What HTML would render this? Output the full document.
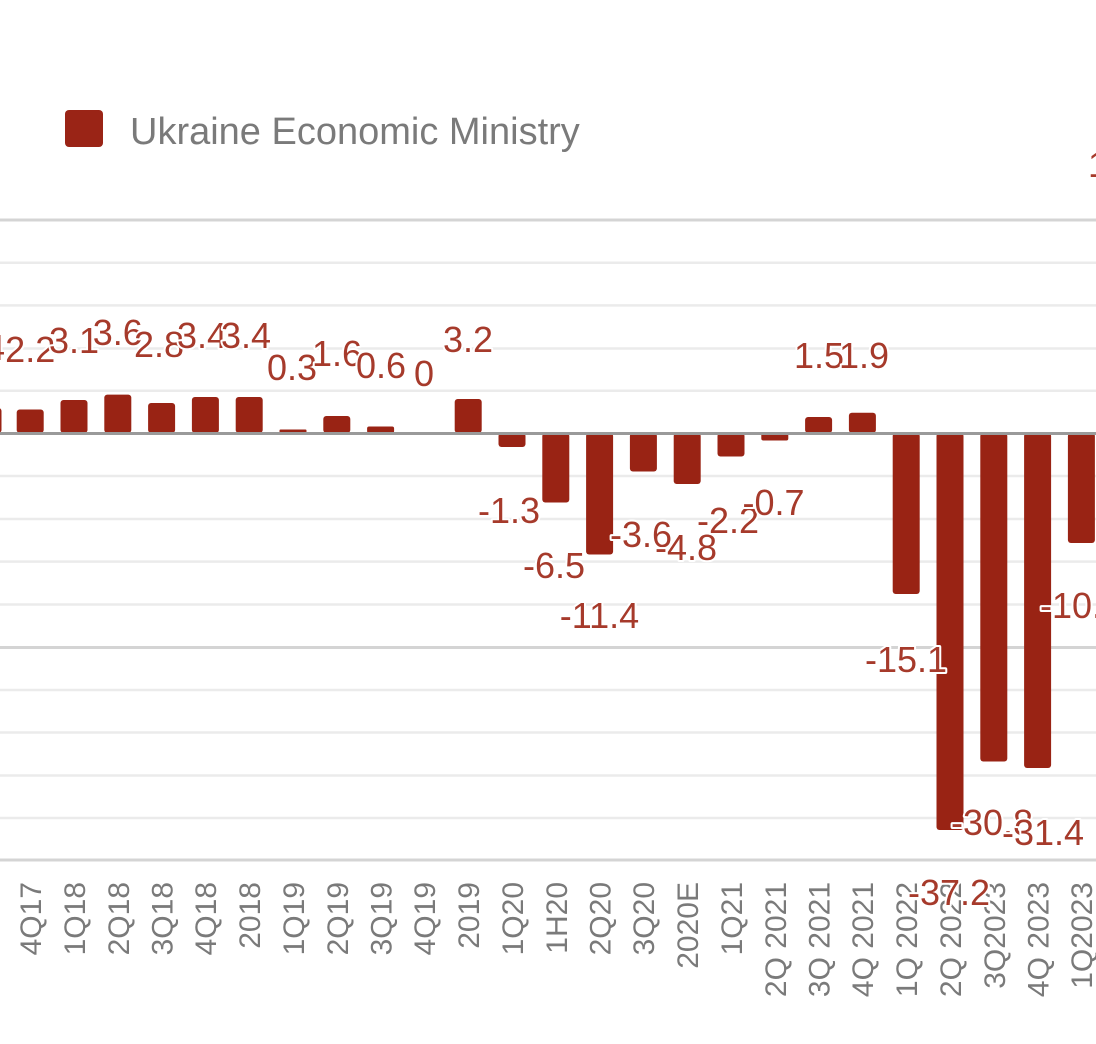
<!DOCTYPE html>
<html>
<head>
<meta charset="utf-8">
<style>
  html, body { margin: 0; padding: 0; background: #ffffff; }
  svg { display: block; }
  .val { font-family: "Liberation Sans", Arial, sans-serif; font-size: 36px; fill: #a63a2b; stroke: #ffffff; stroke-width: 4px; paint-order: stroke; stroke-linejoin: round; text-anchor: middle; }
  .ax { font-family: "Liberation Sans", Arial, sans-serif; font-size: 30px; fill: #7a7a7a; text-anchor: end; }
</style>
</head>
<body>
<svg width="1096" height="1044" viewBox="0 0 1096 1044" xmlns="http://www.w3.org/2000/svg">
  <rect x="0" y="0" width="1096" height="1044" fill="#ffffff"/>

  <!-- Legend -->
  <rect x="65" y="110" width="38" height="37" rx="4" fill="#9a2416"/>
  <text x="130" y="144" font-family="Liberation Sans, Arial, sans-serif" font-size="38" fill="#7a7a7a">Ukraine Economic Ministry</text>

  <!-- Gridlines -->
  <g stroke="#ebebeb" stroke-width="2.5">
    <line x1="0" y1="262.7" x2="1096" y2="262.7"/>
    <line x1="0" y1="305.4" x2="1096" y2="305.4"/>
    <line x1="0" y1="348.5" x2="1096" y2="348.5"/>
    <line x1="0" y1="390.8" x2="1096" y2="390.8"/>
    <line x1="0" y1="476" x2="1096" y2="476"/>
    <line x1="0" y1="519" x2="1096" y2="519"/>
    <line x1="0" y1="561.6" x2="1096" y2="561.6"/>
    <line x1="0" y1="604.5" x2="1096" y2="604.5"/>
    <line x1="0" y1="690" x2="1096" y2="690"/>
    <line x1="0" y1="732.5" x2="1096" y2="732.5"/>
    <line x1="0" y1="775.5" x2="1096" y2="775.5"/>
    <line x1="0" y1="818" x2="1096" y2="818"/>
  </g>
  <g stroke="#d4d4d4" stroke-width="3">
    <line x1="0" y1="220" x2="1096" y2="220"/>
    <line x1="0" y1="647.5" x2="1096" y2="647.5"/>
    <line x1="0" y1="860" x2="1096" y2="860"/>
  </g>

  <!-- Bars -->
  <g fill="#992314">
    <rect x="-26" y="408" width="27.5" height="25" rx="3"/>
    <rect x="16.7" y="409.5" width="27" height="23.5" rx="3"/>
    <rect x="60.5" y="400" width="27" height="33" rx="3"/>
    <rect x="104.3" y="394.6" width="27" height="38.4" rx="3"/>
    <rect x="148.1" y="403" width="27" height="30" rx="3"/>
    <rect x="191.9" y="397" width="27" height="36" rx="3"/>
    <rect x="235.7" y="397" width="27" height="36" rx="3"/>
    <rect x="279.5" y="429.5" width="27" height="3.5" rx="1"/>
    <rect x="323.3" y="416" width="27" height="17" rx="3"/>
    <rect x="367.1" y="426.5" width="27" height="6.5" rx="2"/>
    <rect x="454.7" y="399" width="27" height="34" rx="3"/>
    <rect x="498.5" y="433" width="27" height="14" rx="3"/>
    <rect x="542.3" y="433" width="27" height="69.5" rx="3"/>
    <rect x="586.1" y="433" width="27" height="121.5" rx="3"/>
    <rect x="629.9" y="433" width="27" height="38.5" rx="3"/>
    <rect x="673.7" y="433" width="27" height="51" rx="3"/>
    <rect x="717.5" y="433" width="27" height="23.5" rx="3"/>
    <rect x="761.3" y="433" width="27" height="7.5" rx="2"/>
    <rect x="805.1" y="417" width="27" height="16" rx="3"/>
    <rect x="848.9" y="412.7" width="27" height="20.3" rx="3"/>
    <rect x="892.7" y="433" width="27" height="161" rx="3"/>
    <rect x="936.5" y="433" width="27" height="397" rx="3"/>
    <rect x="980.3" y="433" width="27" height="328.5" rx="3"/>
    <rect x="1024.1" y="433" width="27" height="335" rx="3"/>
    <rect x="1067.9" y="433" width="27" height="110" rx="3"/>
  </g>

  <!-- Zero line -->
  <line x1="0" y1="433.5" x2="1096" y2="433.5" stroke="#9a9a9a" stroke-width="3"/>

  <!-- Category labels (rotated) -->
  <g class="ax">
    <text transform="translate(41,882) rotate(-90)">4Q17</text>
    <text transform="translate(85,882) rotate(-90)">1Q18</text>
    <text transform="translate(129,882) rotate(-90)">2Q18</text>
    <text transform="translate(172.5,882) rotate(-90)">3Q18</text>
    <text transform="translate(216,882) rotate(-90)">4Q18</text>
    <text transform="translate(260,882) rotate(-90)">2018</text>
    <text transform="translate(304,882) rotate(-90)">1Q19</text>
    <text transform="translate(348,882) rotate(-90)">2Q19</text>
    <text transform="translate(391.5,882) rotate(-90)">3Q19</text>
    <text transform="translate(435,882) rotate(-90)">4Q19</text>
    <text transform="translate(479,882) rotate(-90)">2019</text>
    <text transform="translate(523,882) rotate(-90)">1Q20</text>
    <text transform="translate(567,882) rotate(-90)">1H20</text>
    <text transform="translate(610.5,882) rotate(-90)">2Q20</text>
    <text transform="translate(654,882) rotate(-90)">3Q20</text>
    <text transform="translate(698,882) rotate(-90)">2020E</text>
    <text transform="translate(742,882) rotate(-90)">1Q21</text>
    <text transform="translate(786,882) rotate(-90)">2Q 2021</text>
    <text transform="translate(829.5,882) rotate(-90)">3Q 2021</text>
    <text transform="translate(873,882) rotate(-90)">4Q 2021</text>
    <text transform="translate(917,882) rotate(-90)">1Q 2022</text>
    <text transform="translate(961,882) rotate(-90)">2Q 2022</text>
    <text transform="translate(1005,882) rotate(-90)">3Q2023</text>
    <text transform="translate(1048.5,882) rotate(-90)">4Q 2023</text>
    <text transform="translate(1092,882) rotate(-90)">1Q2023</text>
  </g>

  <!-- Value annotations -->
  <g class="val">
    <text x="5" y="360" text-anchor="end" style="text-anchor:end">2.4</text>
    <text x="30.2" y="362">2.2</text>
    <text x="74" y="353">3.1</text>
    <text x="117.8" y="345">3.6</text>
    <text x="159" y="357">2.8</text>
    <text x="202" y="348">3.4</text>
    <text x="246" y="348">3.4</text>
    <text x="292" y="380">0.3</text>
    <text x="337" y="366">1.6</text>
    <text x="381" y="378">0.6</text>
    <text x="424" y="386">0</text>
    <text x="468" y="352">3.2</text>
    <text x="509" y="523">-1.3</text>
    <text x="554" y="578">-6.5</text>
    <text x="599.5" y="628">-11.4</text>
    <text x="641" y="547">-3.6</text>
    <text x="686" y="560">-4.8</text>
    <text x="728" y="533">-2.2</text>
    <text x="773.5" y="515">-0.7</text>
    <text x="819" y="368">1.5</text>
    <text x="864" y="368">1.9</text>
    <text x="906" y="672">-15.1</text>
    <text x="949" y="905">-37.2</text>
    <text x="992" y="835">-30.8</text>
    <text x="1043" y="845">-31.4</text>
    <text x="1081" y="618">-10.3</text>
    <text x="1088" y="177" style="text-anchor:start">15.4</text>
  </g>
</svg>
</body>
</html>
